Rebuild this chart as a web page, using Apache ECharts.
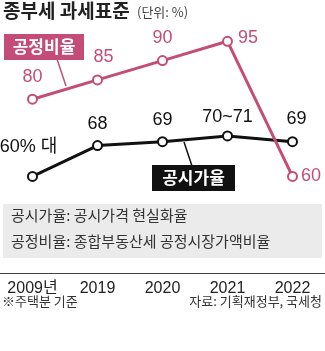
<!DOCTYPE html>
<html>
<head>
<meta charset="utf-8">
<script src="https://cdn.jsdelivr.net/npm/echarts@6/dist/echarts.min.js"></script>
<style>
  html, body { margin: 0; padding: 0; background: #fff; }
  #chart { width: 325px; height: 351px; }
</style>
</head>
<body>
<div id="chart"></div>
<script>
// 종부세 과세표준: 공정시장가액비율 vs 공시가격 현실화율 (단위: %)
const years = ['2009년', '2019', '2020', '2021', '2022'];
const fairRatio = [80, 85, 90, 95, 60];          // 공정비율
const fairLabels = ['80', '85', '90', '95', '60'];
const priceRatio = [60, 68, 69, 70.5, 69];       // 공시가율
const priceLabels = ['60% 대', '68', '69', '70~71', '69'];

const PINK = '#c44d78';
const INK = '#111111';
const KR = '"Noto Sans CJK KR", "Noto Sans", sans-serif';
const NUM = '"Liberation Sans", Arial, ' + KR;

const fairPos = [
  { position: 'top', distance: 8 },
  { position: 'top', distance: 8, offset: [6, 0] },
  { position: 'top', distance: 8 },
  { position: 'right', distance: 5, offset: [0, -3] },
  { position: 'right', distance: 3 }
];
const pricePos = [
  { position: 'top', distance: 5, offset: [-4, -10] },
  { position: 'top', distance: 7 },
  { position: 'top', distance: 7 },
  { position: 'top', distance: 4 },
  { position: 'top', distance: 8, offset: [4, 0] }
];

const chart = echarts.init(document.getElementById('chart'));
chart.setOption({
  animation: false,
  grid: { left: 0, right: 0, top: 22, bottom: 78 },
  xAxis: {
    type: 'category',
    data: years,
    boundaryGap: true,
    axisLine: { onZero: false, lineStyle: { color: '#444', width: 1 } },
    axisTick: { alignWithLabel: true, inside: true, length: 9, lineStyle: { color: '#999' } },
    axisLabel: { interval: 0, color: '#222', fontSize: 16, fontFamily: NUM, margin: 8 }
  },
  yAxis: { type: 'value', min: 35, max: 100, show: false, splitLine: { show: false } },
  graphic: [
    { type: 'text', left: 3, top: 1, style: { text: '종부세 과세표준', font: 'bold 19px ' + KR, fill: '#222' } },
    { type: 'text', left: 137, top: 6, style: { text: '(단위: %)', font: '13px ' + KR, fill: '#444' } },
    // 공정비율 callout
    { type: 'line', shape: { x1: 57, y1: 59, x2: 66, y2: 86 }, style: { stroke: PINK, lineWidth: 1.5 } },
    { type: 'rect', shape: { x: 4, y: 34, width: 80, height: 26 }, style: { fill: PINK } },
    { type: 'text', x: 44, y: 47, style: { text: '공정비율', font: 'bold 17px ' + KR, fill: '#fff', align: 'center', verticalAlign: 'middle' } },
    // 공시가율 callout
    { type: 'line', shape: { x1: 184, y1: 142, x2: 192, y2: 166 }, style: { stroke: INK, lineWidth: 1.5 } },
    { type: 'rect', shape: { x: 152, y: 165, width: 83, height: 26 }, style: { fill: INK } },
    { type: 'text', x: 193.5, y: 178, style: { text: '공시가율', font: 'bold 17px ' + KR, fill: '#fff', align: 'center', verticalAlign: 'middle' } },
    // 용어 설명 박스
    { type: 'rect', z: -1, shape: { x: 3, y: 204, width: 319, height: 54 }, style: { fill: '#ebebeb' } },
    { type: 'text', left: 11, top: 208, style: { text: '공시가율: 공시가격 현실화율', font: '15px ' + KR, fill: '#333' } },
    { type: 'text', left: 11, top: 234, style: { text: '공정비율: 종합부동산세 공정시장가액비율', font: '15px ' + KR, fill: '#333' } },
    // 각주
    { type: 'text', left: 2, top: 295, style: { text: '※주택분 기준', font: '13px ' + KR, fill: '#333' } },
    { type: 'text', right: 3, top: 295, style: { text: '자료: 기획재정부, 국세청', font: '13px ' + KR, fill: '#333' } }
  ],
  series: [
    {
      name: '공정비율',
      type: 'line',
      data: fairRatio.map((v, i) => ({ value: v, label: Object.assign({}, fairPos[i]) })),
      symbol: 'circle',
      symbolSize: 9,
      lineStyle: { color: PINK, width: 3 },
      itemStyle: { color: '#fff', borderColor: PINK, borderWidth: 2 },
      label: {
        show: true,
        color: PINK,
        fontSize: 18,
        fontFamily: NUM,
        formatter: p => fairLabels[p.dataIndex]
      },
      z: 3
    },
    {
      name: '공시가율',
      type: 'line',
      data: priceRatio.map((v, i) => ({ value: v, label: Object.assign({}, pricePos[i]) })),
      symbol: 'circle',
      symbolSize: 9,
      lineStyle: { color: INK, width: 3 },
      itemStyle: { color: '#fff', borderColor: INK, borderWidth: 2 },
      label: {
        show: true,
        color: INK,
        fontSize: 18,
        fontFamily: NUM,
        formatter: p => priceLabels[p.dataIndex]
      },
      z: 2
    }
  ]
});
</script>
</body>
</html>
